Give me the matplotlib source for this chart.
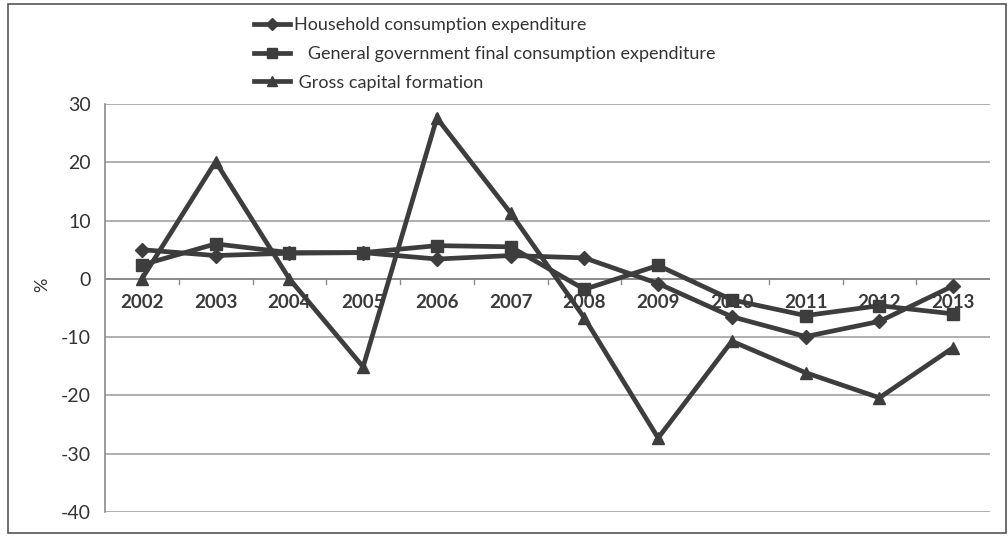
import matplotlib
matplotlib.use("Agg")
import matplotlib.pyplot as plt
from matplotlib.patches import Rectangle
from matplotlib.lines import Line2D

years = ["2002", "2003", "2004", "2005", "2006", "2007",
         "2008", "2009", "2010", "2011", "2012", "2013"]
household = [5.0, 4.0, 4.4, 4.5, 3.4, 4.0, 3.6, -0.8, -6.5, -9.9, -7.3, -1.2]
government = [2.4, 6.0, 4.5, 4.5, 5.7, 5.5, -1.8, 2.3, -3.6, -6.3, -4.6, -6.0]
gross_capital = [0.0, 20.1, 0.0, -15.1, 27.6, 11.3, -6.7, -27.3, -10.7, -16.1, -20.4, -11.8]

labels = ["Household consumption expenditure",
          "General government final consumption expenditure",
          "Gross capital formation"]
y_ticks = [30, 20, 10, 0, -10, -20, -30, -40]

ink = "#3d3d3d"
grid_col = "#a9a9a9"
font = "Lato"

fig = plt.figure(figsize=(10.08, 5.37), dpi=100)
fig.patch.set_facecolor("white")

# outer chart frame
fig.add_artist(Rectangle((8 / 1008, 4 / 537), 998 / 1008, 529 / 537,
                         transform=fig.transFigure, fill=False,
                         edgecolor="#555555", linewidth=1.2))

ax = fig.add_axes([105 / 1008, 1 - 512 / 537, 885 / 1008, 408 / 537])
x = list(range(len(years)))

series = [(household, "D", 7), (government, "s", 8.5), (gross_capital, "^", 8)]
for vals, mk, ms in series:
    ax.plot(x, vals, color=ink, linewidth=3.4, marker=mk, markersize=ms,
            markerfacecolor=ink, markeredgecolor=ink, solid_joinstyle="miter")

ax.set_xlim(-0.5, len(years) - 0.5)
ax.set_ylim(-40, 30)
ax.set_yticks(y_ticks)
ax.set_yticklabels([str(v) for v in y_ticks], family=font, fontsize=14, color="#333333")
for v in y_ticks:
    ax.axhline(v, color=grid_col, linewidth=1.3, zorder=0)

# category axis crosses at zero
ax.set_xticks([])
ax.axhline(0, color="#8a8a8a", linewidth=1.3, zorder=0.5)
for b in range(1, len(years)):
    ax.plot([b - 0.5, b - 0.5], [0, -0.9], color="#8a8a8a", linewidth=1, zorder=0.5)
for xi, yr in zip(x, years):
    ax.text(xi, -2.6, yr, ha="center", va="top", family=font, fontsize=13.5,
            fontweight="bold", color="#3a3a3a")

for side in ["top", "right", "bottom"]:
    ax.spines[side].set_visible(False)
ax.spines["left"].set_color("#8a8a8a")
ax.spines["left"].set_linewidth(1.2)
ax.tick_params(axis="y", length=0, pad=10)

fig.text(42 / 1008, 1 - 285 / 537, "%", rotation=90, ha="center", va="center",
         family=font, fontsize=13, color="#333333")

handles = [Line2D([], [], color=ink, linewidth=3.4, marker=mk, markersize=ms * 0.9,
                  markerfacecolor=ink, markeredgecolor=ink)
           for _, mk, ms in series]
leg_labels = [labels[0], "   " + labels[1], " " + labels[2]]
fig.legend(handles, leg_labels, loc="upper left",
           bbox_to_anchor=(238 / 1008, 1 - 1 / 537), frameon=False,
           prop={"family": font, "size": 13}, handlelength=2.0,
           handletextpad=0.2, labelspacing=0.7, labelcolor="#333333")

fig.savefig("out.png", dpi=100, facecolor="white")
